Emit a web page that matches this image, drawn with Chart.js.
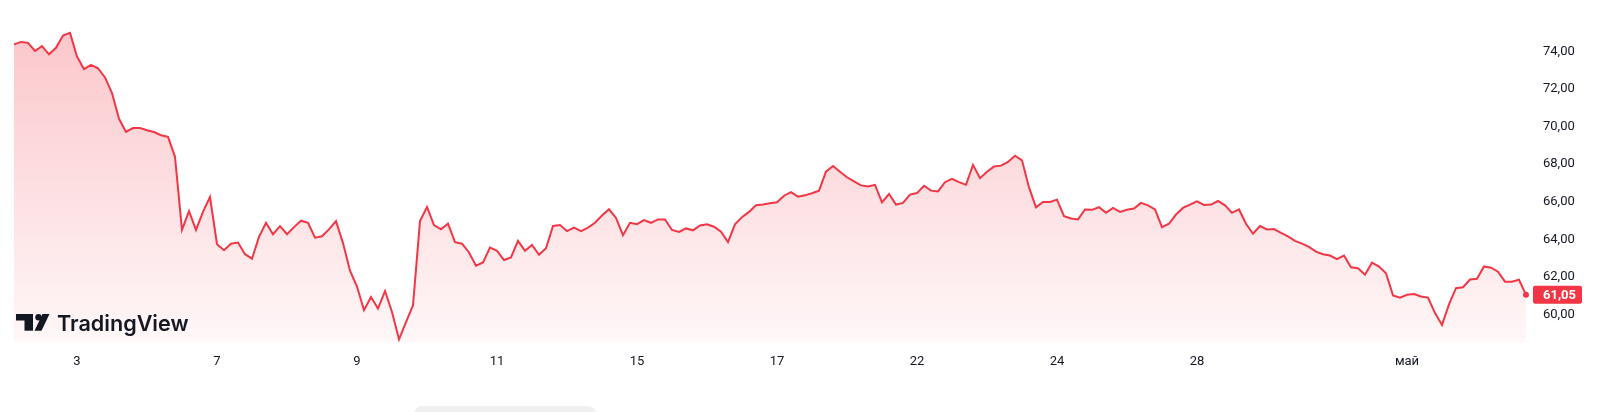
<!DOCTYPE html>
<html lang="ru">
<head>
<meta charset="utf-8">
<title>Brent</title>
<script src="https://cdn.jsdelivr.net/npm/chart.js@4.4.1/dist/chart.umd.min.js"></script>
<style>
    html, body { margin: 0; padding: 0; background: #fff; }
    #wrap { position: relative; width: 1600px; height: 412px; overflow: hidden; }
    #pill { position: absolute; left: 413px; top: 406px; width: 184px; height: 20px; border-radius: 9px; background: #f0f0f0; }
</style>
</head>
<body>
<div id="wrap">
    <canvas id="price-chart"></canvas>
    <div id="pill"></div>
</div>
<script>
// one point every 1/10 of a trading session
const prices = [
    74.37, 74.50, 74.45, 74.02, 74.28, 73.84, 74.19, 74.84, 74.98, 73.72,
    73.05, 73.28, 73.10, 72.61, 71.78, 70.41, 69.71, 69.92, 69.92, 69.80,
    69.71, 69.54, 69.45, 68.39, 64.50, 65.50, 64.50, 65.46, 66.25, 63.74,
    63.42, 63.77, 63.83, 63.21, 62.97, 64.13, 64.88, 64.27, 64.70, 64.27,
    64.65, 64.99, 64.88, 64.09, 64.16, 64.53, 64.97, 63.80, 62.33, 61.49,
    60.23, 60.93, 60.32, 61.25, 60.14, 58.68, 59.60, 60.49, 64.97, 65.72,
    64.76, 64.53, 64.83, 63.85, 63.77, 63.30, 62.60, 62.77, 63.56, 63.39,
    62.90, 63.04, 63.92, 63.39, 63.70, 63.18, 63.53, 64.71, 64.76, 64.44,
    64.62, 64.44, 64.62, 64.88, 65.27, 65.60, 65.14, 64.22, 64.88, 64.81,
    65.02, 64.88, 65.06, 65.06, 64.50, 64.39, 64.58, 64.48, 64.74, 64.80,
    64.67, 64.41, 63.85, 64.80, 65.18, 65.46, 65.81, 65.85, 65.92, 65.97,
    66.32, 66.51, 66.27, 66.34, 66.45, 66.59, 67.60, 67.90, 67.60, 67.30,
    67.08, 66.87, 66.81, 66.90, 65.97, 66.41, 65.85, 65.94, 66.38, 66.46,
    66.85, 66.59, 66.55, 67.04, 67.22, 67.04, 66.90, 67.96, 67.25, 67.60,
    67.87, 67.92, 68.12, 68.45, 68.20, 66.76, 65.70, 65.99, 65.99, 66.11,
    65.23, 65.11, 65.06, 65.59, 65.57, 65.71, 65.41, 65.67, 65.46, 65.57,
    65.64, 65.94, 65.81, 65.59, 64.65, 64.83, 65.32, 65.67, 65.85, 66.02,
    65.83, 65.85, 66.04, 65.81, 65.41, 65.59, 64.83, 64.30, 64.71, 64.53,
    64.55, 64.35, 64.16, 63.92, 63.77, 63.60, 63.35, 63.21, 63.14, 62.95,
    63.14, 62.51, 62.46, 62.12, 62.76, 62.55, 62.20, 61.02, 60.90, 61.05,
    61.09, 60.96, 60.90, 60.08, 59.45, 60.54, 61.40, 61.45, 61.86, 61.90,
    62.56, 62.49, 62.28, 61.75, 61.75, 61.85, 61.05
];

// session starts, in the same point index units
const dayTicks = [9, 29, 49, 69, 89, 109, 129, 149, 169, 199];
const dayLabels = ['3', '7', '9', '11', '15', '17', '22', '24', '28', 'май'];
const priceTicks = [60, 62, 64, 66, 68, 70, 72, 74];

const lineRed = '#f23645';

Chart.defaults.font.family = 'Roboto, "Noto Sans", sans-serif';
Chart.defaults.font.size = 13;
Chart.defaults.color = '#131722';

function areaGradient(context) {
    const chart = context.chart;
    const area = chart.chartArea;
    if (!area) return 'rgba(242, 54, 69, 0.15)';
    const g = chart.ctx.createLinearGradient(0, area.top, 0, area.bottom);
    g.addColorStop(0, 'rgba(242, 54, 69, 0.30)');
    g.addColorStop(1, 'rgba(242, 54, 69, 0.04)');
    return g;
}

function fmtPrice(v) {
    return v.toFixed(2).replace('.', ',');
}

// red box with the last price on the price axis
const lastPriceTag = {
    id: 'lastPriceTag',
    afterDatasetsDraw(chart) {
        const { ctx, chartArea, scales } = chart;
        const last = prices[prices.length - 1];
        const py = scales.y.getPixelForValue(last);
        ctx.save();
        ctx.fillStyle = lineRed;
        ctx.beginPath();
        ctx.roundRect(chartArea.right + 7, py - 9, 49, 18, 2);
        ctx.fill();
        ctx.fillStyle = '#fff';
        ctx.font = 'bold 13px Roboto';
        ctx.textBaseline = 'middle';
        ctx.fillText(fmtPrice(last), chartArea.right + 17, py + 0.5);
        ctx.restore();
    }
};

// TradingView watermark, bottom left
const tvLogo = {
    id: 'tvLogo',
    afterDatasetsDraw(chart) {
        const ctx = chart.ctx;
        ctx.save();
        ctx.fillStyle = '#131722';
        ctx.fillRect(16, 314, 17, 6.5);
        ctx.fillRect(24.5, 314, 8.5, 16.7);
        ctx.beginPath();
        ctx.arc(38.5, 317.3, 3.2, 0, Math.PI * 2);
        ctx.fill();
        ctx.beginPath();
        ctx.moveTo(42.5, 314);
        ctx.lineTo(49.5, 314);
        ctx.lineTo(41.5, 330.7);
        ctx.lineTo(34.5, 330.7);
        ctx.closePath();
        ctx.fill();
        ctx.font = '600 21.6px Inter';
        ctx.textBaseline = 'alphabetic';
        ctx.fillText('TradingView', 57, 330.7);
        ctx.restore();
    }
};

const priceCtx = document.getElementById('price-chart').getContext('2d');
const priceChart = new Chart(priceCtx, {
    type: 'line',
    data: {
        datasets: [{
            label: 'Brent',
            data: prices.map((p, i) => ({ x: i, y: p })),
            borderColor: lineRed,
            borderWidth: 2,
            backgroundColor: areaGradient,
            fill: 'start',
            tension: 0,
            pointRadius: ctx => ctx.dataIndex === prices.length - 1 ? 3 : 0,
            pointHoverRadius: 0,
            pointBackgroundColor: lineRed,
            pointBorderWidth: 0,
            clip: false
        }]
    },
    options: {
        responsive: true,
        maintainAspectRatio: false,
        animation: false,
        layout: {
            padding: { left: 14, top: 0, right: 0, bottom: 0 }
        },
        plugins: {
            legend: { display: false },
            tooltip: { enabled: false }
        },
        scales: {
            x: {
                type: 'linear',
                min: 0,
                max: prices.length - 1,
                grid: { display: false, drawTicks: false },
                border: { display: false },
                ticks: {
                    padding: 12,
                    autoSkip: false,
                    maxRotation: 0,
                    callback: value => dayLabels[dayTicks.indexOf(value)]
                },
                afterBuildTicks: axis => {
                    axis.ticks = dayTicks.map(v => ({ value: v }));
                },
                afterFit: axis => {
                    axis.height = 70;
                    axis.paddingLeft = 0;
                    axis.paddingRight = 0;
                }
            },
            y: {
                position: 'right',
                min: 58.54,
                max: 76.57,
                grid: { display: false, drawTicks: false },
                border: { display: false },
                ticks: {
                    padding: 17,
                    callback: value => fmtPrice(value)
                },
                afterBuildTicks: axis => {
                    axis.ticks = priceTicks.map(v => ({ value: v }));
                },
                afterFit: axis => {
                    axis.width = 74;
                    // keep the plot flush with the top edge
                    axis.paddingTop = 0;
                    axis.paddingBottom = 0;
                }
            }
        }
    },
    plugins: [lastPriceTag, tvLogo]
});
</script>
</body>
</html>
